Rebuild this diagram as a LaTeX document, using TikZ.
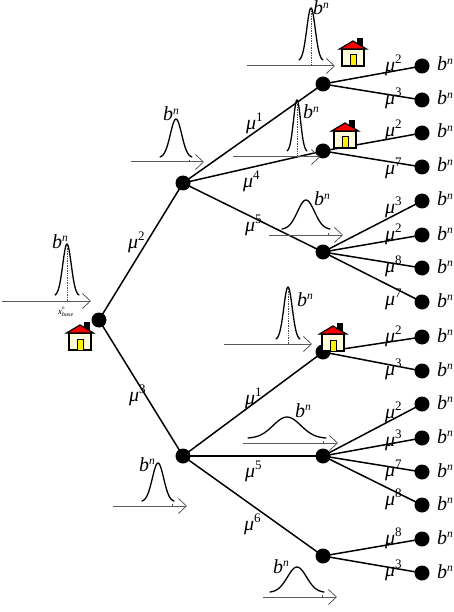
\documentclass[tikz,border=0pt]{standalone}
\usepackage{fontspec}
\setmainfont{Liberation Serif}
\usetikzlibrary{arrows.meta}
\tikzset{
  dot/.style={circle,fill=black,draw=none,inner sep=0pt,minimum size=15pt},
  edge/.style={line width=1.5pt,black},
  lab/.style={inner sep=0pt,anchor=base west,font=\fontsize{20}{20}\selectfont\itshape},
  axis/.style={line width=1pt,draw=black!65,-{Straight Barb[length=8pt,width=15pt,line width=0.8pt]}},
  bell/.style={line width=1.3pt,black},
  drop/.style={line width=0.7pt,black!70,densely dotted},
  wall/.style={draw=black,line width=1.2pt,fill=yellow!15!white}
}
\newcommand{\bn}{\textit{b}\raisebox{6.5pt}{\fontsize{11.5}{11.5}\selectfont\textit{n}}}
\newcommand{\mun}[1]{\textit{μ}\raisebox{8pt}{\fontsize{13}{13}\selectfont\upshape #1}}
% peak x, peak y, half width, base y, axis y, axis start, axis end, mark x, mark top y
\newcommand{\bellcurve}[9]{%
  \draw[bell,line cap=round] plot[domain=-1:1,samples=41,smooth] ({#1+#3*\x},{#4-(#4-#2)*(exp(-4*\x*\x)-exp(-4))/(1-exp(-4))});
  \draw[axis] (#6,#5) -- (#7,#5);
  \draw[drop] (#8,#5) -- (#8,#9);
}
\newcommand{\house}[2]{%
  \begin{scope}[shift={(#1,#2)}]
    \fill[black] (4,-3) rectangle (10,6);
    \draw[wall] (-11,8) rectangle (11,25);
    \draw[draw=black,line width=1.2pt,fill=red] (0,0) -- (13.5,8) -- (-13.5,8) -- cycle;
    \draw[draw=black,line width=1pt,fill=yellow] (-3,14) rectangle (3,25);
  \end{scope}}
\begin{document}
\begin{tikzpicture}[x=1pt,y=-1pt]
\useasboundingbox (0,0) rectangle (454,612);
\node[dot] (r) at (99,320) {};
\node[dot] (a) at (183,183) {};
\node[dot] (b) at (183,456) {};
\foreach \n/\y in {a1/84,a2/151,a3/252,b1/352,b2/456,b3/556}
  \node[dot] (\n) at (323,\y) {};
\foreach \n/\y/\p/\s/\ly in {
 l1/66/a1/2/72,l2/100/a1/3/105,l3/133/a2/2/137,l4/167/a2/7/175,
 l5/201/a3/3/213,l6/235/a3/2/240,l7/268/a3/8/272,l8/302/a3/7/305,
 l9/337/b1/2/342,l10/371/b1/3/375,l11/404/b2/2/418,l12/438/b2/3/446,
 l13/472/b2/7/476,l14/505/b2/8/505,l15/539/b3/8/544,l16/573/b3/3/576}{
  \node[dot] (\n) at (422,\y) {};
  \draw[edge] (\p.center) -- (\n.center);
  \node[lab] (m\n) at (385,\ly) {\mun{\s}};
  \node[lab] (t\n) at (437,\y+5) {\bn};
}
\foreach \p/\c in {r/a,r/b,a/a1,a/a2,a/a3,b/b1,b/b2,b/b3}
  \draw[edge] (\p.center) -- (\c.center);
\foreach \n/\x/\y/\s in {m1/128/248/2,m2/129/401/3,m3/246/130/1,m4/243/188/4,m5/245/231/5,m6/245/404/1,m7/245/477/5,m8/244/530/6}
  \node[lab] (\n) at (\x,\y) {\mun{\s}};
% bells
\bellcurve{67}{244}{12}{295}{301}{2}{91}{67}{246}
\bellcurve{176}{119}{16}{157}{162}{131}{204}{189}{159}
\bellcurve{311}{8}{12}{60}{66}{247}{335}{311}{10}
\bellcurve{297}{100}{10}{151}{157}{233}{320}{297}{102}
\bellcurve{306}{200}{24}{229}{235}{269}{343}{328}{232}
\bellcurve{288}{287}{12}{339}{344}{224}{312}{288}{289}
\bellcurve{287}{417}{39}{438}{443}{243}{338}{323}{440}
\bellcurve{158}{463}{16}{501}{506}{113}{187}{172}{503}
\bellcurve{297}{567}{27}{592}{597}{263}{337}{322}{594}
% bell labels
\foreach \n/\x/\y in {n1/52/248,n2/163/121,n3/313/15,n4/303/119,n5/314/206,n6/297/306,n7/295/417,n8/139/471,n9/273/573}
  \node[lab] (\n) at (\x,\y) {\bn};
\node[inner sep=0pt,anchor=base west,font=\fontsize{9}{9}\selectfont\itshape] (xb) at (58,314) {x\rlap{\raisebox{5pt}{\fontsize{5}{5}\selectfont n}}\raisebox{-2.5pt}{\fontsize{6}{6}\selectfont base}};
% houses
\house{80}{325}
\house{353}{41}
\house{345}{123}
\house{333}{326}
\end{tikzpicture}
\end{document}
